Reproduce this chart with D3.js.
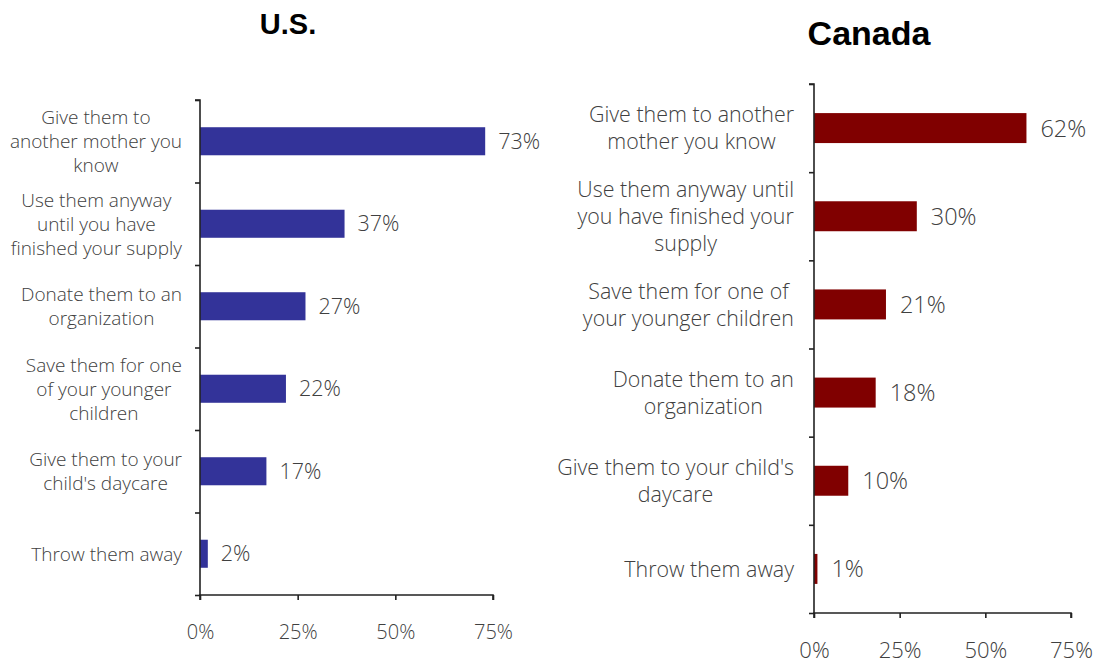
<!DOCTYPE html>
<html><head><meta charset="utf-8">
<script src="https://cdn.jsdelivr.net/npm/d3@7"></script>
<style>
body{margin:0;background:#fff;}
svg{display:block;}
text{font-family:"Open Sans",Lato,sans-serif;font-weight:300;fill:#404040;}
.title{font-family:"Liberation Sans",Arial,sans-serif;font-weight:700;fill:#000;}
</style></head><body>
<svg id="c" width="1101" height="666"></svg>
<script>
// ---- data ----
const usCategories = [
  "Give them to\nanother mother you\nknow",
  "Use them anyway\nuntil you have\nfinished your supply",
  "Donate them to an\norganization",
  "Save them for one\nof your younger\nchildren",
  "Give them to your\nchild's daycare",
  "Throw them away"
];
const usValues = [73, 37, 27, 22, 17, 2];
const caCategories = [
  "Give them to another\nmother you know",
  "Use them anyway until\nyou have finished your\nsupply",
  "Save them for one of\nyour younger children",
  "Donate them to an\norganization",
  "Give them to your child's\ndaycare",
  "Throw them away"
];
const caValues = [62, 30, 21, 18, 10, 1];
const xTicks = [0, 25, 50, 75];
const titles = ["U.S.", "Canada"];

const svg = d3.select("#c");

function panel(cfg){
  const g = svg.append("g");
  const n = cfg.cats.length;
  const x = d3.scaleLinear().domain([0,75]).range([cfg.x0, cfg.x1]);
  const y = d3.scaleBand().domain(d3.range(n)).range([cfg.y0, cfg.y1]).paddingInner(0.66).paddingOuter(0.33);
  const yl = d3.scaleLinear().domain([0,n]).range([cfg.y0, cfg.y1]);

  g.selectAll("rect.bar").data(cfg.vals).join("rect")
    .attr("x", x(0)).attr("y",(d,i)=>y(i))
    .attr("width", d=>x(d)-x(0)).attr("height", y.bandwidth())
    .attr("fill", cfg.color);

  const ya = g.append("g").attr("transform",`translate(${x(0)},0)`)
    .call(d3.axisLeft(yl).tickValues(d3.range(n+1)).tickSize(5).tickFormat(""));
  const xa = g.append("g").attr("transform",`translate(0,${cfg.y1})`)
    .call(d3.axisBottom(x).tickValues(xTicks).tickSize(5).tickPadding(cfg.xpad).tickFormat(d=>d+"%"));
  [ya,xa].forEach(a=>{
    a.select(".domain").attr("stroke","#222").attr("stroke-width",1.6);
    a.selectAll(".tick line").attr("stroke","#222").attr("stroke-width",1.6);
  });
  ya.select(".domain").attr("d",`M-5,${cfg.y0}H0V${cfg.y1}`);
  xa.select(".domain").attr("d",`M${cfg.x0},5V0H${cfg.x1}V5`);
  xa.selectAll("text").style("font-size",cfg.tickFs+"px").attr("fill","#404040")
    .style("font-family",'"Open Sans",Lato,sans-serif').style("font-weight",300);

  g.selectAll("text.val").data(cfg.vals).join("text").attr("class","val")
    .attr("x", d=>x(d)+cfg.valOff).attr("y",(d,i)=>y(i)+y.bandwidth()/2)
    .attr("dy","0.36em").style("font-size",cfg.valFs+"px")
    .text(d=>d+"%");

  cfg.cats.forEach((c,i)=>{
    const lines = c.split("\n");
    const t = g.append("text").style("font-size",cfg.catFs+"px").attr("text-anchor","middle");
    const cy = y(i)+y.bandwidth()/2;
    const spans = lines.map((l,k)=>t.append("tspan").text(l)
      .attr("y", cy + (k-(lines.length-1)/2)*cfg.lh).attr("dy","0.36em"));
    const w = d3.max(spans, s=>s.node().getComputedTextLength());
    spans.forEach(s=>s.attr("x", cfg.labelRight - w/2));
  });

  svg.append("text").attr("class","title").attr("x",cfg.tx).attr("y",cfg.ty)
    .attr("text-anchor","middle").style("font-size",cfg.tfs+"px").text(cfg.title);
}

panel({cats:usCategories, vals:usValues, color:"#333399", x0:200, x1:493, y0:100, y1:595,
  xpad:25, tickFs:20, valFs:21.5, valOff:13, catFs:19, lh:24, labelRight:182,
  title:titles[0], tx:288, ty:34, tfs:29});
panel({cats:caCategories, vals:caValues, color:"#800000", x0:814, x1:1071, y0:84, y1:613,
  xpad:24, tickFs:22, valFs:23.5, valOff:14, catFs:21.4, lh:27, labelRight:794,
  title:titles[1], tx:869, ty:45, tfs:34});
</script>
</body></html>
